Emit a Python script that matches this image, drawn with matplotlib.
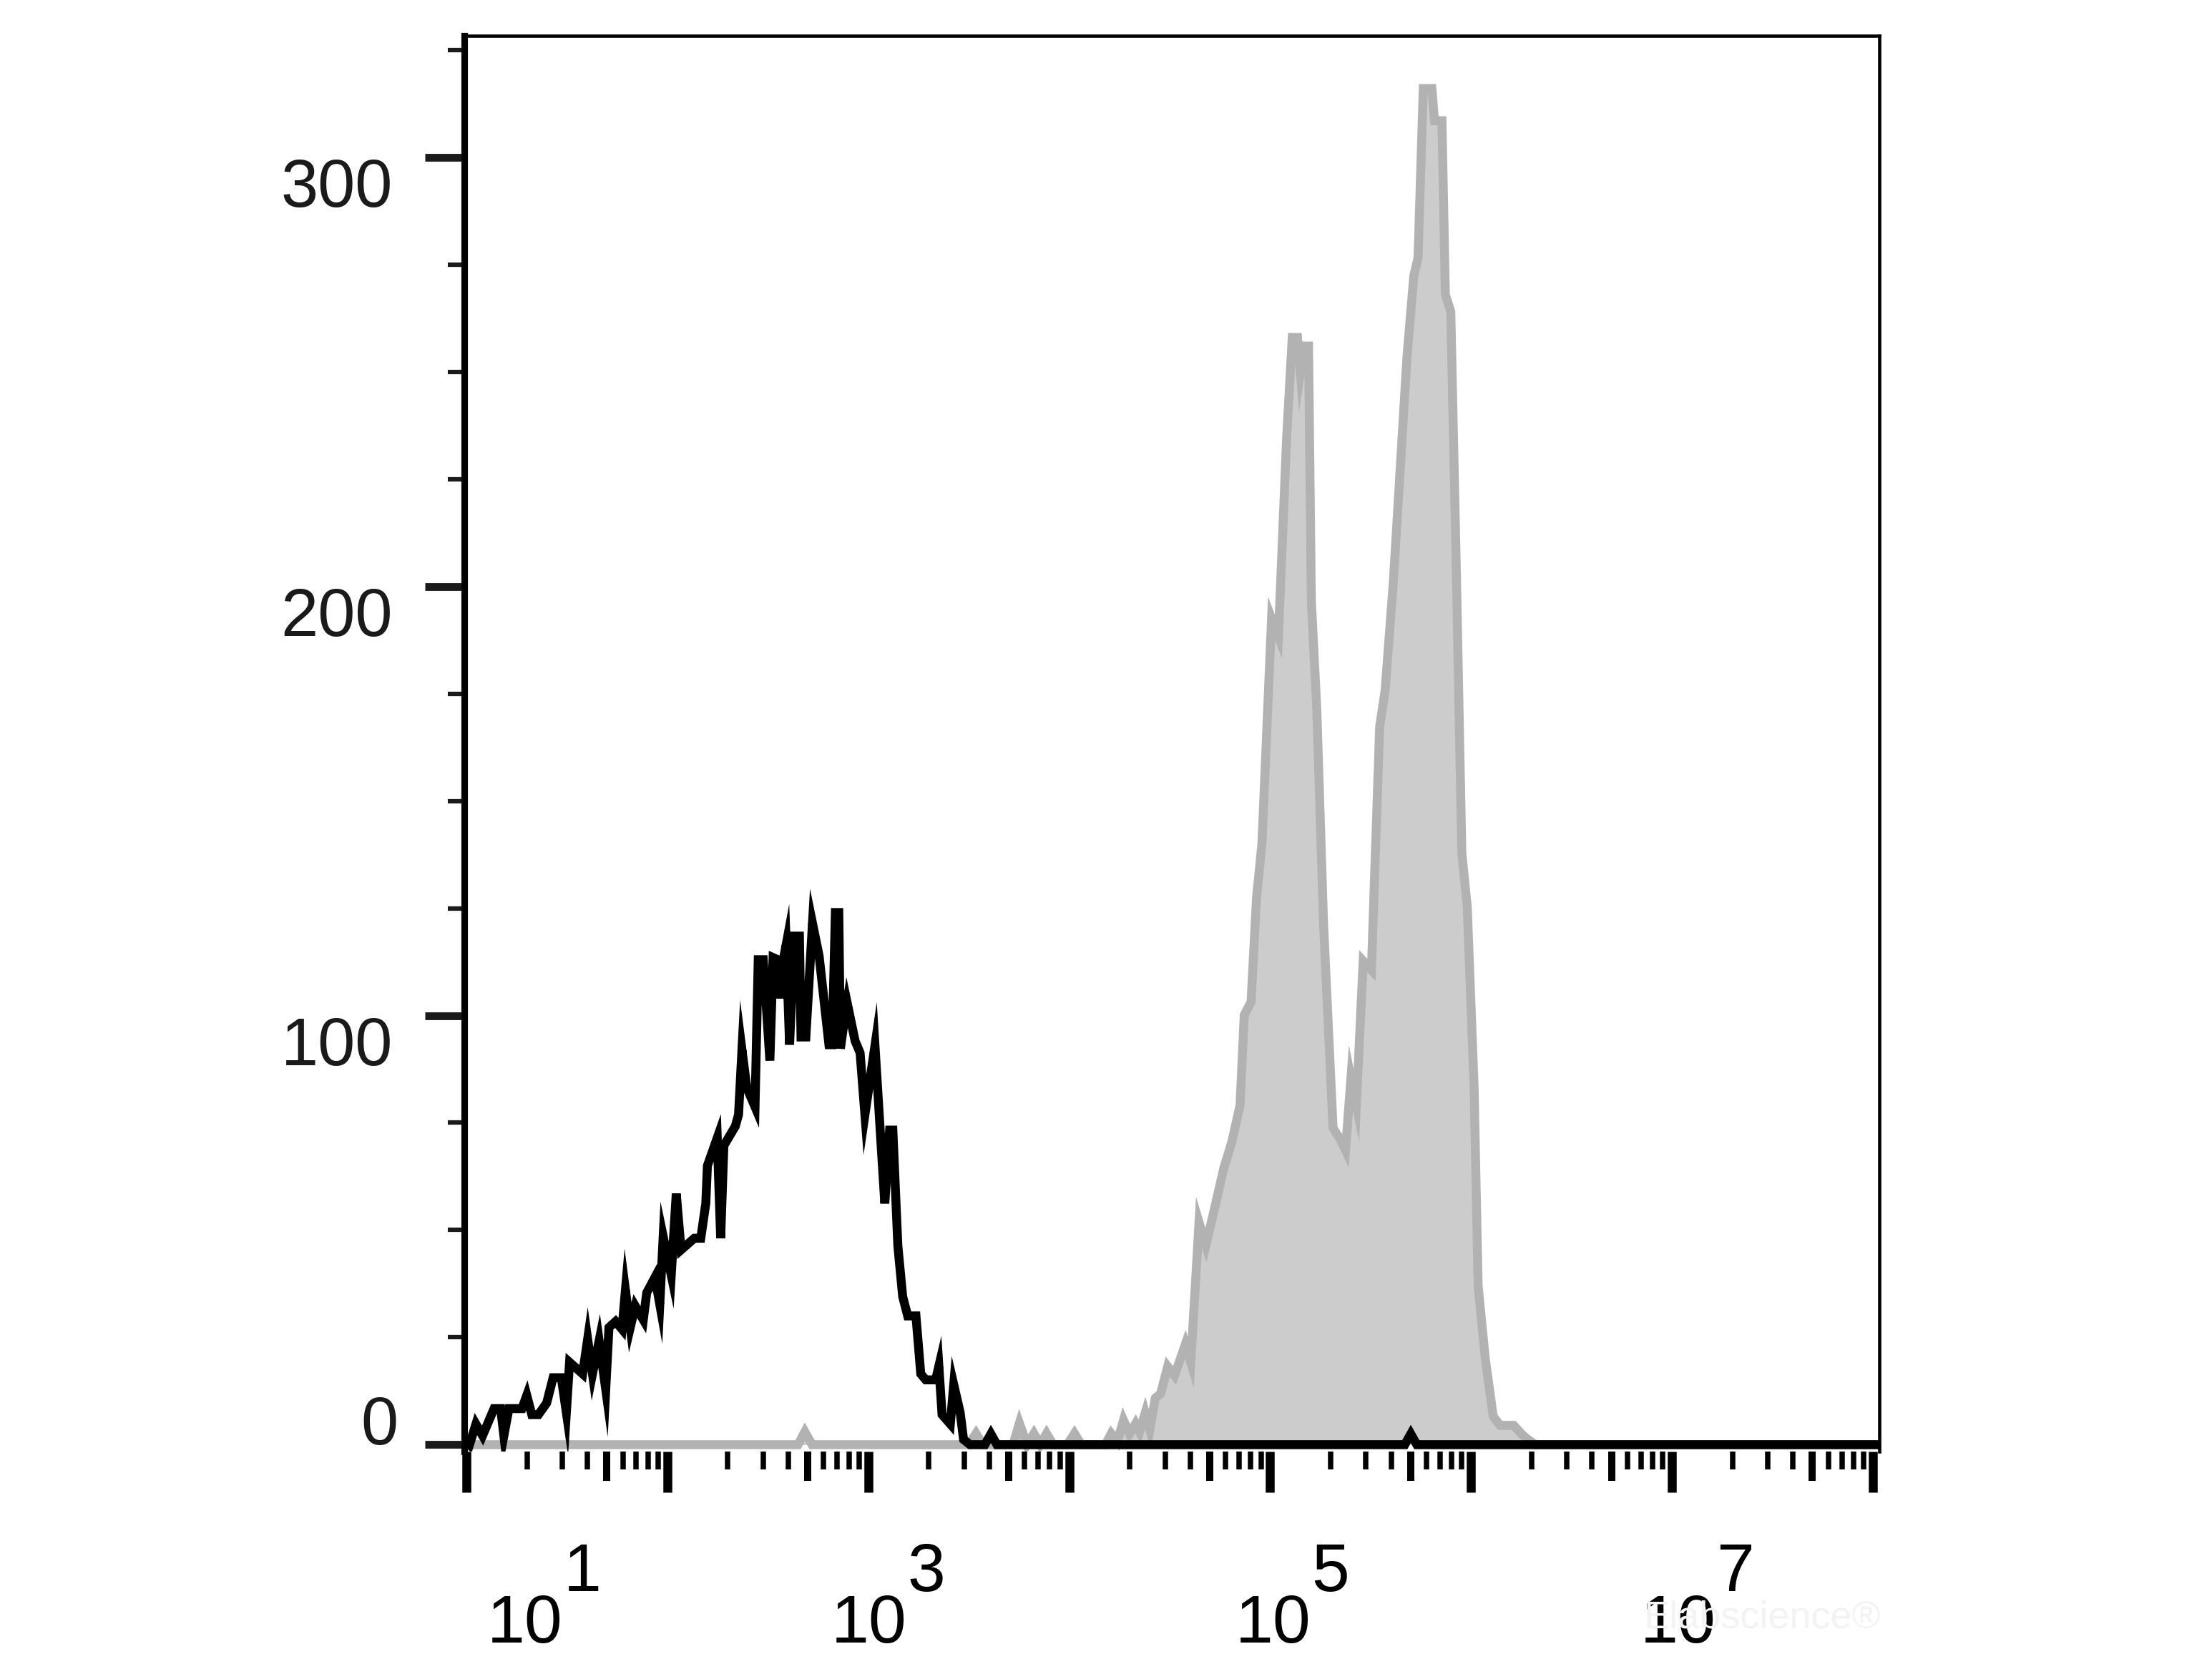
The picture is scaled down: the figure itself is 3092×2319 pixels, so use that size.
import numpy as np
import matplotlib
matplotlib.use('Agg')
import matplotlib.pyplot as plt
from matplotlib.ticker import FixedLocator, NullFormatter, NullLocator

plt.rcParams['font.family'] = ['Liberation Sans', 'DejaVu Sans']

# ---------------- data (log10 fluorescence intensity, event counts) -------------
black_log = [0.990, 1.015, 1.047, 1.080, 1.137, 1.170, 1.186, 1.211, 1.276, 1.300,
             1.325, 1.358, 1.399, 1.431, 1.472, 1.497, 1.513, 1.578, 1.603, 1.627,
             1.660, 1.693, 1.709, 1.742, 1.774, 1.791, 1.815, 1.840, 1.880, 1.897,
             1.938, 1.962, 1.979, 2.019, 2.044, 2.068, 2.134, 2.166, 2.191, 2.199,
             2.248, 2.265, 2.281, 2.338, 2.354, 2.371, 2.395, 2.436, 2.452, 2.477,
             2.510, 2.526, 2.550, 2.559, 2.575, 2.591, 2.608, 2.632, 2.657, 2.665,
             2.689, 2.722, 2.755, 2.804, 2.820, 2.836, 2.853, 2.861, 2.885, 2.894,
             2.934, 2.959, 2.983, 3.033, 3.065, 3.082, 3.106, 3.122, 3.147, 3.171,
             3.196, 3.237, 3.261, 3.286, 3.335, 3.351, 3.367, 3.408, 3.425, 3.457,
             3.474, 3.506, 3.580, 3.610, 3.640, 5.670, 5.700, 5.730, 8.100]
black_counts = [1.2, 0.0, 4.8, 2.1, 8.4, 8.4, 2.1, 8.4, 8.4, 11.5,
                7.0, 7.0, 9.7, 15.6, 15.6, 7.5, 19.2, 16.5, 24.6, 16.5,
                24.2, 12.9, 27.3, 28.7, 26.9, 36.0, 27.3, 32.3, 29.1, 35.4,
                39.0, 32.7, 48.5, 39.5, 58.5, 45.4, 48.1, 48.1, 56.2, 65.0,
                71.5, 48.1, 69.7, 74.2, 76.9, 92.0, 83.2, 78.7, 113.0, 113.0,
                89.5, 113.5, 113.0, 104.0, 112.5, 116.5, 93.2, 118.5, 118.5, 95.0,
                95.0, 121.5, 113.9, 93.2, 93.2, 124.0, 124.0, 92.3, 100.4, 103.1,
                94.1, 91.3, 76.9, 93.0, 68.8, 56.2, 73.3, 73.3, 46.3, 34.5,
                30.0, 30.0, 16.5, 15.1, 15.1, 18.3, 7.0, 4.8, 14.0, 7.5,
                1.2, 0.0, 0.0, 2.5, 0.0, 0.0, 2.5, 0.0, 0.0]

gray_log = [0.900, 2.650, 2.684, 2.720, 3.500, 3.536, 3.570, 3.720, 3.752, 3.790,
            3.824, 3.855, 3.887, 3.920, 3.990, 4.026, 4.060, 4.180, 4.209, 4.240,
            4.270, 4.300, 4.330, 4.350, 4.378, 4.401, 4.428, 4.455, 4.490, 4.524,
            4.578, 4.605, 4.646, 4.680, 4.728, 4.769, 4.810, 4.850, 4.871, 4.905,
            4.932, 4.959, 5.007, 5.041, 5.082, 5.110, 5.136, 5.150, 5.168, 5.191,
            5.205, 5.232, 5.266, 5.313, 5.354, 5.375, 5.402, 5.429, 5.463, 5.504,
            5.545, 5.572, 5.613, 5.681, 5.715, 5.736, 5.762, 5.805, 5.818, 5.855,
            5.872, 5.899, 5.926, 5.954, 5.981, 6.015, 6.035, 6.070,
            6.110, 6.144, 6.212, 6.253, 6.280, 6.320, 8.100]
gray_counts = [0.0, 0.0, 3.0, 0.0, 0.0, 2.6, 0.0, 0.0, 5.0, 0.0,
               2.6, 0.0, 2.6, 0.0, 0.0, 2.6, 0.0, 0.0, 2.6, 0.8,
               5.7, 2.5, 4.9, 3.0, 7.4, 3.5, 10.8, 11.9, 18.2, 16.1,
               23.4, 19.2, 51.8, 46.5, 56.0, 64.4, 70.7, 79.1, 100.1, 103.2,
               127.4, 140.0, 192.5, 188.3, 234.6, 258.0, 258.0, 250.0, 256.0, 256.0,
               196.7, 171.5, 121.1, 73.8, 70.7, 68.6, 85.4, 79.1, 112.7, 110.6,
               167.3, 175.7, 201.0, 253.5, 272.4, 276.6, 316.0, 316.0, 308.5, 308.5,
               268.0, 264.0, 205.1, 137.9, 125.3, 83.3, 37.1, 20.3,
               6.6, 4.5, 4.5, 2.4, 1.3, 0.0, 0.0]

y_major = [0, 100, 200, 300]
y_minor = [25, 50, 75, 125, 150, 175, 225, 250, 275, 325]
x_decades = [1, 2, 3, 4, 5, 6, 7, 8]
x_label_exp = [1, 3, 5, 7]
x_label_pos = [1.29, 3.004, 5.014, 7.03]   # log10 position of label centres

# ---------------- figure ----------------
W, H, DPI = 3092, 2319, 300
fig = plt.figure(figsize=(W / DPI, H / DPI), dpi=DPI)
L, R, T, B = 649, 2627, 50, 2029
ax = fig.add_axes([L / W, 1 - B / H, (R - L) / W, (B - T) / H])

gx = 10.0 ** np.array(gray_log)
bx = 10.0 ** np.array(black_log)
ax.fill_between(gx, gray_counts, 0, color='#cccccc', lw=0, zorder=1)
ax.plot(gx, gray_counts, color='#b2b2b2', lw=3.0, solid_joinstyle='miter', zorder=2)
ax.plot(bx, black_counts, color='black', lw=3.0, solid_joinstyle='miter', zorder=3)

ax.set_xscale('log')
ax.set_xlim(10 ** 0.989, 10 ** 8.032)
ax.set_ylim(-1.6, 328.3)

# spines
ax.spines['bottom'].set_visible(False)
ax.spines['left'].set_linewidth(2.2)
ax.spines['top'].set_linewidth(1.1)
ax.spines['right'].set_linewidth(1.1)

# x ticks
ax.xaxis.set_major_locator(FixedLocator([10.0 ** k for k in x_decades]))
ax.xaxis.set_minor_locator(FixedLocator([m * 10.0 ** k for k in range(0, 9)
                                         for m in (2, 3, 4, 6, 7, 8, 9)]))
ax.xaxis.set_major_formatter(NullFormatter())
ax.xaxis.set_minor_formatter(NullFormatter())
ax.tick_params(axis='x', which='major', length=13.7, width=3.0, direction='out', color='black')
ax.tick_params(axis='x', which='minor', length=6.0, width=1.8, direction='out', color='black')

sec = ax.secondary_xaxis('bottom')
sec.xaxis.set_major_locator(FixedLocator([5 * 10.0 ** k for k in range(0, 9)]))
sec.xaxis.set_minor_locator(NullLocator())
sec.xaxis.set_major_formatter(NullFormatter())
sec.spines['bottom'].set_visible(False)
sec.tick_params(axis='x', which='major', length=9.8, width=2.4, direction='out', color='black')

# y ticks
ax.yaxis.set_major_locator(FixedLocator(y_major))
ax.yaxis.set_minor_locator(FixedLocator(y_minor))
ax.yaxis.set_major_formatter(NullFormatter())
ax.tick_params(axis='y', which='major', length=13.2, width=2.6, direction='out', color='#1a1a1a')
ax.tick_params(axis='y', which='minor', length=5.5, width=1.5, direction='out', color='#1a1a1a')

# y labels
for v in y_major:
    if v == 0:
        ax.annotate(str(v), xy=(0, v), xycoords=('axes fraction', 'data'),
                    xytext=(-(L - 556), 0), textcoords='offset pixels',
                    ha='right', va='baseline', fontsize=22.5, color='#1a1a1a')
    else:
        ax.annotate(str(v), xy=(0, v), xycoords=('axes fraction', 'data'),
                    xytext=(-(L - 549), 0), textcoords='offset pixels',
                    ha='right', va='top', fontsize=22.5, color='#1a1a1a')

# x labels (10 with raised exponent)
for e, p in zip(x_label_exp, x_label_pos):
    ax.annotate('10', xy=(10.0 ** p, 0), xycoords=('data', 'axes fraction'),
                xytext=(0, -(2296 - B)), textcoords='offset pixels',
                ha='center', va='baseline', fontsize=22.8, color='black',
                annotation_clip=False)
    ax.annotate(str(e), xy=(10.0 ** p, 0), xycoords=('data', 'axes fraction'),
                xytext=(54, -(2224 - B)), textcoords='offset pixels',
                ha='left', va='baseline', fontsize=22.8, color='black',
                annotation_clip=False)

# faint watermark
fig.text(2629 / W, 1 - 2275 / H, 'Elabscience\u00ae', ha='right', va='baseline',
         fontsize=13, color='#f3f3f3', zorder=10)

fig.savefig('out.png', dpi=DPI)
